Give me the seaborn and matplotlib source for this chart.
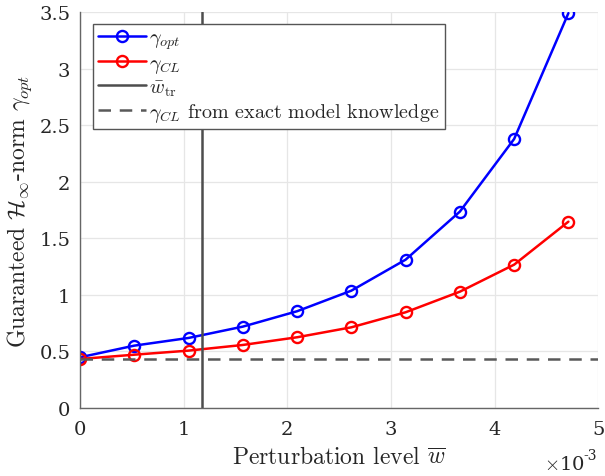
import matplotlib
matplotlib.use("Agg")
import matplotlib.pyplot as plt
import seaborn as sns
import pandas as pd
from matplotlib.ticker import FuncFormatter, FixedLocator

# Perturbation levels (actual values) and guaranteed H-infinity norms
w_levels = [0.0, 0.5236e-3, 1.0472e-3, 1.5708e-3, 2.0944e-3,
            2.6180e-3, 3.1416e-3, 3.6652e-3, 4.1888e-3, 4.7124e-3]
gamma_opt = [0.448, 0.551, 0.619, 0.719, 0.855, 1.037, 1.311, 1.736, 2.378, 3.49]
gamma_cl = [0.433, 0.471, 0.507, 0.557, 0.625, 0.713, 0.846, 1.028, 1.267, 1.647]
w_tr = 1.18e-3
gamma_cl_exact = 0.435

x_ticks = [0, 1e-3, 2e-3, 3e-3, 4e-3, 5e-3]
y_ticks = [0, 0.5, 1, 1.5, 2, 2.5, 3, 3.5]

sns.set_theme(style="white")
plt.rcParams["font.family"] = ["DejaVu Serif"]
plt.rcParams["mathtext.fontset"] = "cm"

df = pd.DataFrame({"w": w_levels * 2,
                   "gamma": gamma_opt + gamma_cl,
                   "series": ["opt"] * len(w_levels) + ["cl"] * len(w_levels)})

fig = plt.figure(figsize=(6.05, 4.77), dpi=100)
ax = fig.add_axes([0.1322, 0.1426, 0.8566, 0.8301])

blue = "#0000FF"
red = "#FF0000"
sns.lineplot(data=df[df.series == "opt"], x="w", y="gamma", ax=ax, color=blue,
             marker="o", markersize=8, markerfacecolor="none", markeredgecolor=blue,
             markeredgewidth=1.7, linewidth=1.8, label=r"$\gamma_{opt}$")
sns.lineplot(data=df[df.series == "cl"], x="w", y="gamma", ax=ax, color=red,
             marker="o", markersize=8, markerfacecolor="none", markeredgecolor=red,
             markeredgewidth=1.7, linewidth=1.8, label=r"$\gamma_{CL}$")
ax.axvline(w_tr, color="#4d4d4d", linewidth=1.8, label=r"$\bar{w}_{\mathrm{tr}}$")
ax.axhline(gamma_cl_exact, color="#595959", linewidth=1.8, linestyle=(0, (5, 3.5)),
           label=r"$\gamma_{CL}$ from exact model knowledge")

ax.set_xlim(0, 5e-3)
ax.set_ylim(0, 3.5)
ax.xaxis.set_major_locator(FixedLocator(x_ticks))
ax.yaxis.set_major_locator(FixedLocator(y_ticks))
ax.xaxis.set_major_formatter(FuncFormatter(lambda v, p: f"{v * 1e3:g}"))
ax.yaxis.set_major_formatter(FuncFormatter(lambda v, p: f"{v:g}"))

ax.grid(True, color="#e6e6e6", linewidth=0.9)
ax.set_axisbelow(True)
for side in ["top", "right"]:
    ax.spines[side].set_visible(False)
for side in ["left", "bottom"]:
    ax.spines[side].set_color("#666666")
    ax.spines[side].set_linewidth(1.0)
ax.tick_params(direction="in", length=4, width=0.9, colors="#666666",
               labelcolor="#262626", labelsize=14)
ax.tick_params(axis="x", pad=9)
ax.tick_params(axis="y", pad=7)

ax.set_xlabel(r"Perturbation level $\overline{w}$", fontsize=17, family="cmr10",
              color="#262626", labelpad=5)
ax.set_ylabel(r"Guaranteed $\mathcal{H}_{\infty}$-norm $\gamma_{opt}$",
              fontsize=17, family="cmr10", color="#262626")
ax.yaxis.set_label_coords(-0.088, 0.5)

# exponent marker for the x axis
ax.text(0.934, -0.142, r"$\times$10", transform=ax.transAxes, fontsize=14,
        color="#262626", ha="center", va="center")
ax.text(0.985, -0.118, "-3", transform=ax.transAxes, fontsize=10,
        color="#262626", ha="center", va="center")

leg = ax.legend(loc="upper left", bbox_to_anchor=(0.025, 0.97),
                prop={"family": "cmr10", "size": 14.5},
                frameon=True, fancybox=False, framealpha=1, edgecolor="#555555",
                borderpad=0.25, labelspacing=0.14, handlelength=2.4,
                handletextpad=0.15, borderaxespad=0)
leg.get_frame().set_linewidth(1.0)

fig.savefig("out.png", dpi=100)
